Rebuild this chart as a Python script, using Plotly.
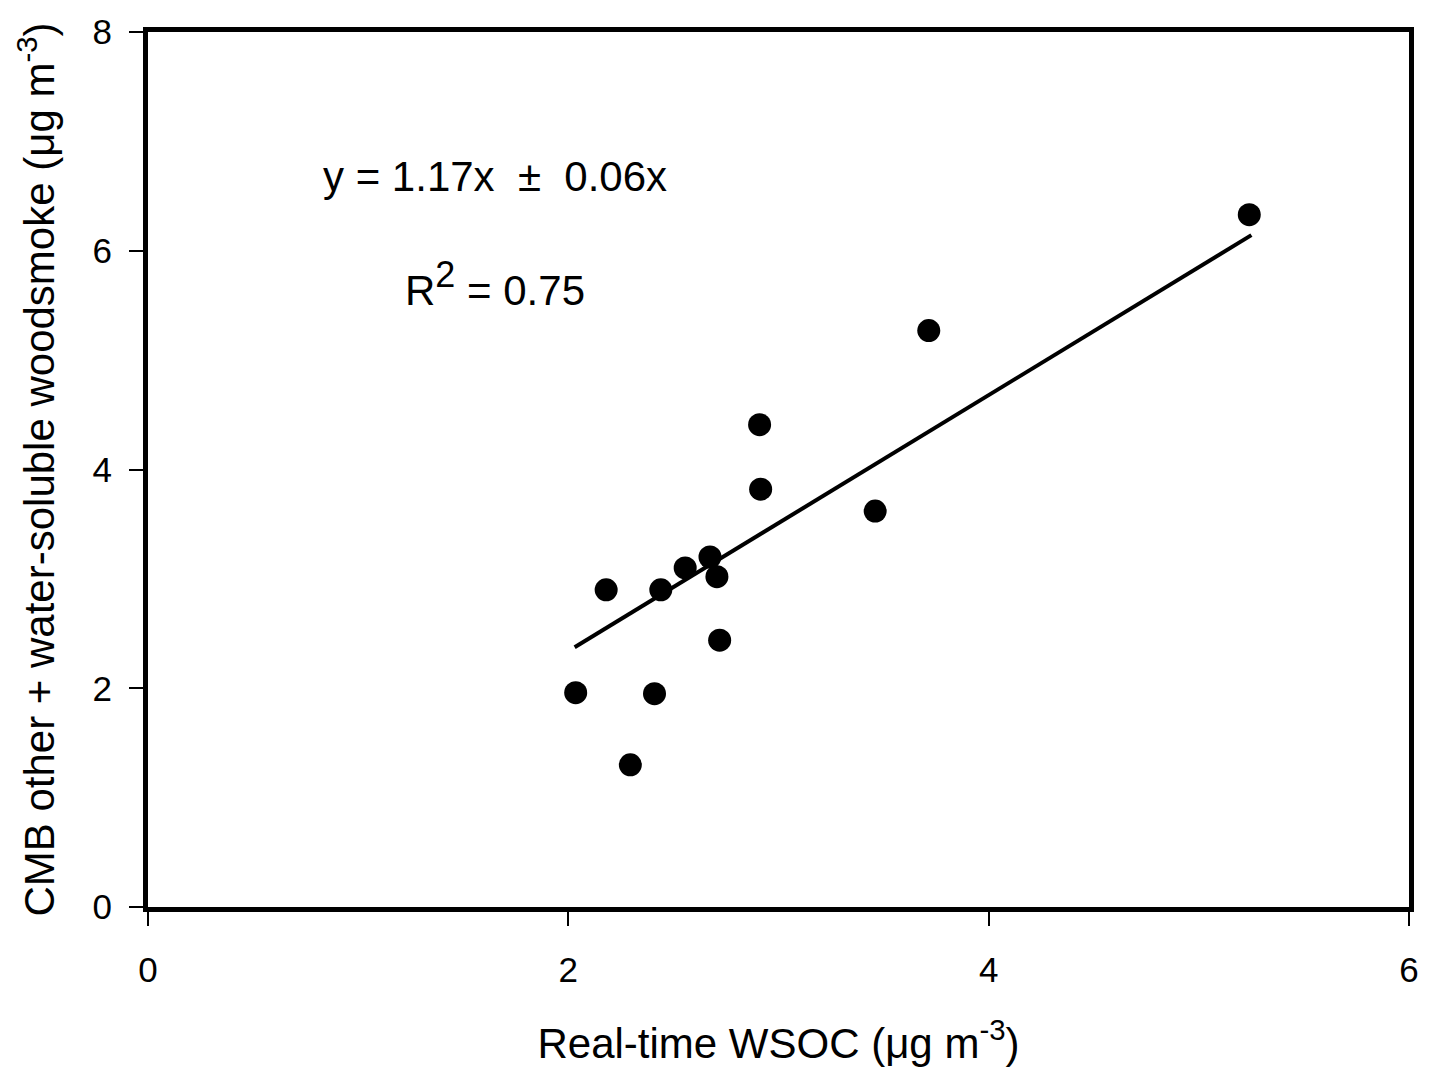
import plotly.graph_objects as go

# Data
wsoc = [5.24, 3.715, 2.91, 2.915, 3.46, 2.674, 2.556, 2.707, 2.18, 2.44, 2.72, 2.035, 2.41, 2.295]
cmb = [6.33, 5.27, 4.41, 3.82, 3.62, 3.20, 3.10, 3.02, 2.90, 2.90, 2.44, 1.96, 1.95, 1.30]
slope = 1.17
fit_x = [2.03, 5.25]
fit_y = [slope * v for v in fit_x]
x_ticks = [0, 2, 4, 6]
y_ticks = [0, 2, 4, 6, 8]

FONT = "Liberation Sans, Arial, sans-serif"
NB = "\u00a0"

fig = go.Figure()
fig.add_trace(go.Scatter(x=fit_x, y=fit_y, mode="lines",
                         line=dict(color="black", width=4), showlegend=False))
fig.add_trace(go.Scatter(x=wsoc, y=cmb, mode="markers",
                         marker=dict(color="black", size=23), showlegend=False))

fig.add_annotation(x=1.65, y=6.68,
                   text="y = 1.17x " + NB + "\u00b1" + NB + " 0.06x", showarrow=False,
                   font=dict(size=42, color="black", family=FONT))
fig.add_annotation(x=1.65, y=5.70,
                   text='R<sup><span style="font-size:36px">2</span></sup> = 0.75',
                   showarrow=False,
                   font=dict(size=42, color="black", family=FONT))

axis_common = dict(showline=True, linecolor="black", linewidth=5, mirror=True,
                   ticks="outside", ticklen=14, tickwidth=2, tickcolor="black",
                   showgrid=False, zeroline=False, ticklabeloverflow="allow",
                   tickfont=dict(size=35, color="black", family=FONT))

fig.update_xaxes(range=[0, 6], tickvals=x_ticks, ticklabelstandoff=14,
                 title=dict(text="Real-time WSOC (\u03bcg m<sup>-3</sup>)",
                            font=dict(size=42, color="black", family=FONT), standoff=42),
                 **axis_common)
fig.update_yaxes(range=[0, 8], tickvals=y_ticks, ticklabelstandoff=10,
                 title=dict(text="CMB other + water-soluble woodsmoke (\u03bcg m<sup>-3</sup>)",
                            font=dict(size=42, color="black", family=FONT), standoff=26),
                 **axis_common)

fig.update_layout(width=1431, height=1072, plot_bgcolor="white", paper_bgcolor="white",
                  margin=dict(l=148, r=15, t=26, b=158), font=dict(family=FONT))

fig.write_html("out.html", config={"displayModeBar": False},
               post_script="document.body.style.margin='0';")
